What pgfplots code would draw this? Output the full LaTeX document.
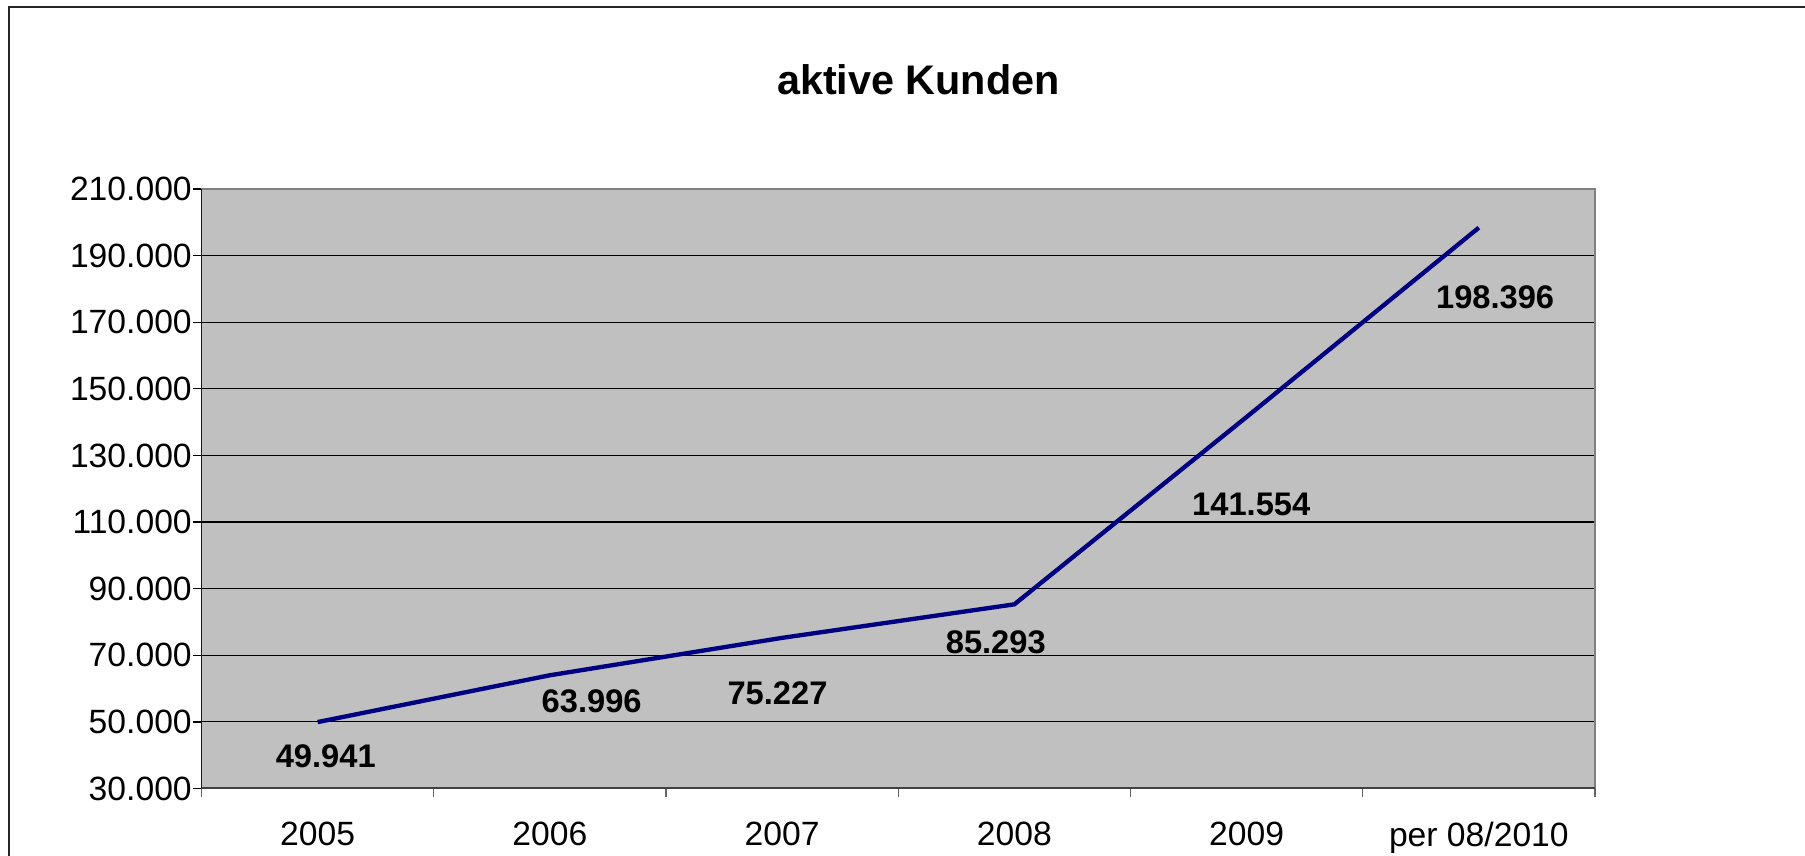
\documentclass[border=0pt]{standalone}
\usepackage{pgfplots}
\pgfplotsset{compat=1.18}
\usepackage{fontspec}
\setmainfont{Liberation Sans}
\definecolor{plotbg}{RGB}{192,192,192}
\definecolor{navyline}{RGB}{0,0,128}
\begin{document}
\begin{tikzpicture}
\useasboundingbox (0,0) rectangle (541.5pt,256.8pt);
\draw[line width=0.6pt,black!85] (2.7pt,0) -- (2.7pt,254.7pt) -- (541.5pt,254.7pt);
\node[font=\bfseries\fontsize{12.4}{14}\selectfont] at (275.5pt,232.8pt) {aktive Kunden};
\begin{axis}[
  at={(60.45pt,20.25pt)}, anchor=south west,
  scale only axis, width=418.05pt, height=179.85pt,
  xmin=-0.5, xmax=5.5, ymin=30000, ymax=210000,
  axis background/.style={fill=plotbg},
  axis line style={draw=none},
  xtick pos=bottom, ytick pos=left,
  xtick={0,1,2,3,4,5},
  xticklabels={2005,2006,2007,2008,2009,per 08/2010},
  major x tick style={draw=none},
  minor xtick={-0.5,0.5,1.5,2.5,3.5,4.5,5.5},
  minor tick length=2.6pt,
  major tick length=2.6pt,
  tick align=outside,
  tick style={black, line width=0.4pt},
  x tick style={black!60},
  ytick={30000,50000,70000,90000,110000,130000,150000,170000,190000,210000},
  yticklabels={30.000,50.000,70.000,90.000,110.000,130.000,150.000,170.000,190.000,210.000},
  scaled y ticks=false,
  ymajorgrids,
  grid style={black, line width=0.35pt},
  ticklabel style={font=\fontsize{10.1}{11}\selectfont},
  xticklabel style={yshift=-4pt},
  yticklabel style={xshift=3.2pt},
  clip=false,
]
\addplot[navyline, line width=1.3pt] coordinates {
  (0,49941) (1,63996) (2,75227) (3,85293) (4,141554) (5,198396)
};
\draw[black!50, line width=0.6pt] (axis cs:-0.5,210000) -- (axis cs:5.5,210000) -- (axis cs:5.5,30000);
\draw[black!75, line width=0.6pt] (axis cs:-0.5,30000) -- (axis cs:5.5,30000);
\draw[black!90, line width=0.5pt] (axis cs:-0.5,30000) -- (axis cs:-0.5,210000);
\begin{scope}[every node/.style={font=\bfseries\fontsize{9.8}{12}\selectfont}]
\node at (axis cs:0.035,39700) {49.941};
\node at (axis cs:1.18,56300) {63.996};
\node at (axis cs:1.98,58700) {75.227};
\node at (axis cs:2.92,73900) {85.293};
\node at (axis cs:4.02,115300) {141.554};
\node at (axis cs:5.07,177500) {198.396};
\end{scope}
\end{axis}
\end{tikzpicture}
\end{document}
